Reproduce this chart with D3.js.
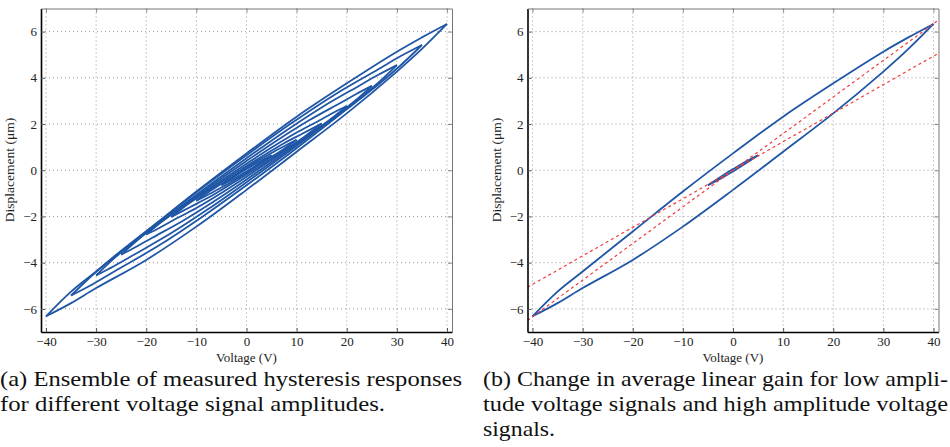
<!DOCTYPE html>
<html>
<head>
  <style type="text/css">
    body { margin: 0; background: #fff; }
    svg { display: block; }
    svg text { font-family: "Liberation Serif", "Times New Roman", "DejaVu Serif", serif; }
  </style>
</head>
<body>
  <svg width="950" height="447" id="fig"></svg>

  <script src="https://d3js.org/d3.v7.min.js"></script>
  <script>

const voltTicks = [-40, -30, -20, -10, 0, 10, 20, 30, 40]
const dispTicks = [-6, -4, -2, 0, 2, 4, 6]

// loops: voltage, upper (falling) branch, lower (rising) branch
const v40  = [-40, -35, -30, -20, -10, 0, 10, 20, 30, 35, 40]
const up40 = [-6.32, -5.25, -4.38, -2.65, -0.92, 0.73, 2.32, 3.76, 5.13, 5.75, 6.33]
const lo40 = [-6.32, -5.75, -5.10, -3.88, -2.44, -0.85, 0.80, 2.46, 4.27, 5.25, 6.33]

const v35  = [-35, -30.6, -26.3, -17.5, -8.8, 0, 8.8, 17.5, 26.3, 30.6, 35]
const up35 = [-5.42, -4.51, -3.71, -2.22, -0.76, 0.65, 2.01, 3.26, 4.37, 4.92, 5.42]
const lo35 = [-5.42, -4.92, -4.37, -3.26, -2.01, -0.65, 0.76, 2.22, 3.71, 4.51, 5.42]

const v30  = [-30, -26.3, -22.5, -15, -7.5, 0, 7.5, 15, 22.5, 26.3, 30]
const up30 = [-4.55, -3.79, -3.12, -1.88, -0.66, 0.52, 1.66, 2.72, 3.66, 4.13, 4.55]
const lo30 = [-4.55, -4.13, -3.66, -2.72, -1.66, -0.52, 0.66, 1.88, 3.12, 3.79, 4.55]

const v25  = [-25, -21.9, -18.8, -12.5, -6.3, 0, 6.3, 12.5, 18.8, 21.9, 25]
const up25 = [-3.65, -3.05, -2.51, -1.52, -0.55, 0.40, 1.32, 2.16, 2.92, 3.30, 3.65]
const lo25 = [-3.65, -3.30, -2.92, -2.16, -1.32, -0.40, 0.55, 1.52, 2.51, 3.05, 3.65]

const v20  = [-20, -17.5, -15, -10, -5, 0, 5, 10, 15, 17.5, 20]
const up20 = [-2.78, -2.33, -1.93, -1.18, -0.44, 0.28, 0.98, 1.63, 2.21, 2.51, 2.78]
const lo20 = [-2.78, -2.51, -2.21, -1.63, -0.98, -0.28, 0.44, 1.18, 1.93, 2.33, 2.78]

const v15  = [-15, -11.3, -7.5, -3.8, 0, 3.8, 7.5, 11.3, 15]
const up15 = [-2.02, -1.41, -0.87, -0.34, 0.18, 0.69, 1.17, 1.60, 2.02]
const lo15 = [-2.02, -1.60, -1.17, -0.69, -0.18, 0.34, 0.87, 1.41, 2.02]

const v10  = [-10, -7.5, -5, -2.5, 0, 2.5, 5, 7.5, 10]
const up10 = [-1.32, -0.93, -0.58, -0.24, 0.11, 0.44, 0.75, 1.04, 1.32]
const lo10 = [-1.32, -1.04, -0.75, -0.44, -0.11, 0.24, 0.58, 0.93, 1.32]

const v5  = [-5, -2.5, 0, 2.5, 5]
const up5 = [-0.65, -0.29, 0.05, 0.37, 0.65]
const lo5 = [-0.65, -0.37, -0.05, 0.29, 0.65]

// average linear gains (um/V) of the dashed fits in (b): high amplitude, low amplitude
const gains = [0.1585, 0.1235]

const captionA = ['(a) Ensemble of measured hysteresis responses', 'for different voltage signal amplitudes.']
const captionB = ['(b) Change in average linear gain for low ampli-', 'tude voltage signals and high amplitude voltage', 'signals.']

function loop(v, up, lo) {
  return [v.map((d, i) => [d, up[i]]), v.map((d, i) => [d, lo[i]])]
}

const loopsA = [
  loop(v40, up40, lo40), loop(v35, up35, lo35), loop(v30, up30, lo30), loop(v25, up25, lo25),
  loop(v20, up20, lo20), loop(v15, up15, lo15), loop(v10, up10, lo10), loop(v5, up5, lo5)
]
const loopsB = [loop(v40, up40, lo40), loop(v5, up5, lo5)]

const svg = d3.select('#fig')

function panel(left, right, loops, fits) {
  let top = 8.5, bottom = 332
  let x = d3.scaleLinear().domain([-41, 41]).range([left, right])
  let y = d3.scaleLinear().domain([-7, 7]).range([bottom, top])
  let g = svg.append('g')

  // dotted grid
  g.append('g').selectAll('line').data(voltTicks).join('line')
    .attr('x1', d => x(d)).attr('x2', d => x(d)).attr('y1', top).attr('y2', bottom)
  g.append('g').selectAll('line').data(dispTicks).join('line')
    .attr('y1', d => y(d)).attr('y2', d => y(d)).attr('x1', left).attr('x2', right)
  g.selectAll('line')
    .attr('stroke', '#9a9a9a').attr('stroke-width', 1).attr('stroke-dasharray', '1,3')

  let clip = 'clip' + Math.round(left)
  g.append('clipPath').attr('id', clip).append('rect')
    .attr('x', left).attr('y', top).attr('width', right - left).attr('height', bottom - top)

  let line = d3.line().x(d => x(d[0])).y(d => y(d[1])).curve(d3.curveCatmullRom.alpha(0.5))

  let data = g.append('g').attr('clip-path', 'url(#' + clip + ')')
  data.selectAll('path.branch').data(loops.flat()).join('path')
    .attr('class', 'branch')
    .attr('d', line)
    .attr('fill', 'none')
    .attr('stroke', '#1f56a6')
    .attr('stroke-width', 1.8)
    .attr('stroke-linejoin', 'round')

  data.selectAll('path.fit').data(fits).join('path')
    .attr('class', 'fit')
    .attr('d', k => d3.line()(x.domain().map(v => [x(v), y(k * v)])))
    .attr('fill', 'none')
    .attr('stroke', '#f23a3a')
    .attr('stroke-width', 1.2)
    .attr('stroke-dasharray', '3,3')

  // axes: black bottom/left with labels, grey top/right
  let bx = g.append('g').attr('transform', 'translate(0,' + bottom + ')')
    .call(d3.axisBottom(x).tickValues(voltTicks).tickSizeInner(-4).tickSizeOuter(0).tickPadding(4.5))
  let ly = g.append('g').attr('transform', 'translate(' + left + ',0)')
    .call(d3.axisLeft(y).tickValues(dispTicks).tickSizeInner(-4).tickSizeOuter(0).tickPadding(4))
  let tx = g.append('g').attr('transform', 'translate(0,' + top + ')')
    .call(d3.axisTop(x).tickValues(voltTicks).tickSizeInner(-4).tickSizeOuter(0).tickFormat(''))
  let ry = g.append('g').attr('transform', 'translate(' + right + ',0)')
    .call(d3.axisRight(y).tickValues(dispTicks).tickSizeInner(-4).tickSizeOuter(0).tickFormat(''))

  for (let a of [bx, ly]) {
    a.attr('font-family', null)
    a.select('.domain').attr('stroke', '#000').attr('stroke-width', 1.6)
    a.selectAll('.tick line').attr('stroke', '#555')
    a.selectAll('text').attr('font-size', 13).attr('fill', '#222')
  }
  for (let a of [tx, ry]) {
    a.select('.domain').attr('stroke', '#777').attr('stroke-width', 1)
    a.selectAll('.tick line').attr('stroke', '#888')
  }

  g.append('text')
    .attr('x', (left + right) / 2).attr('y', 361.5)
    .attr('text-anchor', 'middle')
    .attr('font-size', 13).attr('fill', '#222')
    .text('Voltage (V)')
  g.append('text')
    .attr('transform', 'translate(' + (left - 27) + ',170) rotate(-90)')
    .attr('text-anchor', 'middle')
    .attr('font-size', 13.5).attr('fill', '#222')
    .text('Displacement (μm)')
}

panel(41, 452, loopsA, [])
panel(527.5, 938.5, loopsB, gains)

function caption(x0, lines, widths) {
  svg.append('g').selectAll('text').data(lines).join('text')
    .attr('x', x0)
    .attr('y', (d, i) => 386 + i * 25)
    .attr('textLength', (d, i) => widths[i])
    .attr('lengthAdjust', 'spacingAndGlyphs')
    .attr('font-size', 21).attr('fill', '#111')
    .text(d => d)
}

caption(0, captionA, [462, 385])
caption(483, captionB, [465, 465, 72])

  </script>
</body>
</html>
